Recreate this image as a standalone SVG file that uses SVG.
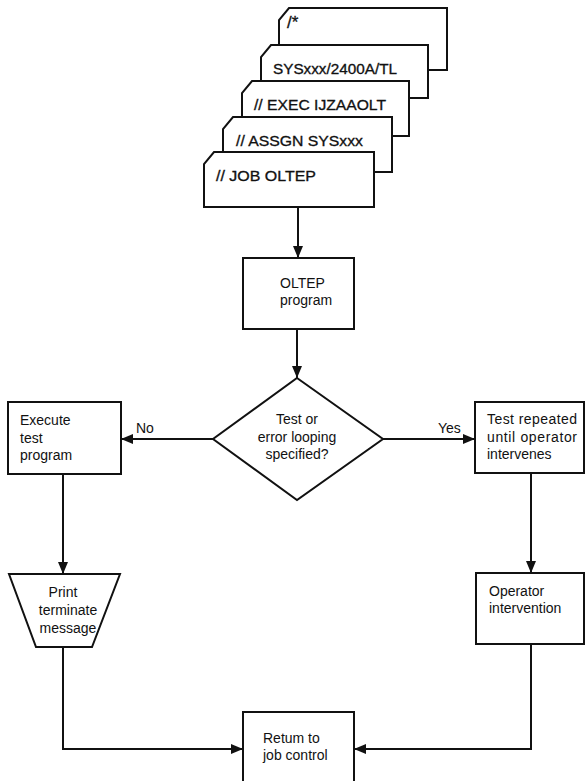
<svg xmlns="http://www.w3.org/2000/svg" width="586" height="781" viewBox="0 0 586 781">
  <style>
    .shape { fill: #ffffff; stroke: #111111; stroke-width: 2; }
    .wire { fill: none; stroke: #111111; stroke-width: 2; }
    text { font-family: "Liberation Sans", "DejaVu Sans", sans-serif; font-size: 14px; fill: #111111; }
    .card text { font-size: 14px; stroke: #111111; stroke-width: 0.3; }
    .mid { text-anchor: middle; }
  </style>
  <defs>
    <marker id="arrow" viewBox="0 0 12 10" refX="12" refY="5" markerWidth="12" markerHeight="10" markerUnits="userSpaceOnUse" orient="auto">
      <path d="M0,0 L12,5 L0,10 Z" fill="#111111"/>
    </marker>
  </defs>

  <!-- Job control card deck, back to front -->
  <g id="card-end" class="card">
    <path class="shape" d="M289,8 L447,8 L447,70 L279,70 L279,20 Z"/>
    <text x="287" y="28" style="font-size:17px">/*</text>
  </g>
  <g id="card-sys" class="card">
    <path class="shape" d="M271,45 L428,45 L428,98 L261,98 L261,57 Z"/>
    <text x="273" y="74" textLength="124" lengthAdjust="spacingAndGlyphs">SYSxxx/2400A/TL</text>
  </g>
  <g id="card-exec" class="card">
    <path class="shape" d="M252,81 L409,81 L409,136 L242,136 L242,93 Z"/>
    <text x="254" y="110" textLength="132" lengthAdjust="spacingAndGlyphs">// EXEC IJZAAOLT</text>
  </g>
  <g id="card-assgn" class="card">
    <path class="shape" d="M233,117 L392,117 L392,172 L223,172 L223,129 Z"/>
    <text x="236" y="146" textLength="127" lengthAdjust="spacingAndGlyphs">// ASSGN SYSxxx</text>
  </g>
  <g id="card-job" class="card">
    <path class="shape" d="M214,152 L374,152 L374,207 L204,207 L204,164 Z"/>
    <text x="216" y="181" textLength="100" lengthAdjust="spacingAndGlyphs">// JOB OLTEP</text>
  </g>

  <!-- Process steps -->
  <g id="oltep">
    <rect class="shape" x="243" y="258" width="111" height="71"/>
    <text x="280" y="288">OLTEP</text>
    <text x="280" y="305">program</text>
  </g>
  <g id="decision">
    <path class="shape" d="M297,378 L383,439 L297,500 L213,439 Z"/>
    <text class="mid" x="297" y="424">Test or</text>
    <text class="mid" x="297" y="442">error looping</text>
    <text class="mid" x="297" y="459">specified?</text>
  </g>
  <g id="execute">
    <rect class="shape" x="8" y="402" width="113" height="72"/>
    <text x="20" y="425">Execute</text>
    <text x="20" y="443">test</text>
    <text x="20" y="460">program</text>
  </g>
  <g id="repeat">
    <rect class="shape" x="475" y="402" width="109" height="71"/>
    <text x="487" y="424" textLength="90" lengthAdjust="spacing">Test repeated</text>
    <text x="487" y="442" textLength="90" lengthAdjust="spacing">until operator</text>
    <text x="487" y="459">intervenes</text>
  </g>
  <g id="print">
    <path class="shape" d="M9,574 L120,574 L92,647 L36,647 Z"/>
    <text class="mid" x="63" y="597">Print</text>
    <text class="mid" x="68" y="615">terminate</text>
    <text class="mid" x="68" y="633">message</text>
  </g>
  <g id="operator">
    <rect class="shape" x="476" y="573" width="108" height="71"/>
    <text x="489" y="596">Operator</text>
    <text x="489" y="613">intervention</text>
  </g>
  <g id="return">
    <rect class="shape" x="243" y="712" width="111" height="80"/>
    <text x="263" y="743">Retum to</text>
    <text x="263" y="760">job control</text>
  </g>

  <!-- Connectors -->
  <g id="connectors">
    <path class="wire" d="M298,207 L298,258" marker-end="url(#arrow)"/>
    <path class="wire" d="M297,329 L297,378" marker-end="url(#arrow)"/>
    <path class="wire" d="M213,439 L121,439" marker-end="url(#arrow)"/>
    <path class="wire" d="M383,439 L475,439" marker-end="url(#arrow)"/>
    <path class="wire" d="M63,474 L63,574" marker-end="url(#arrow)"/>
    <path class="wire" d="M531,473 L531,573" marker-end="url(#arrow)"/>
    <path class="wire" d="M63,647 L63,749 L243,749" marker-end="url(#arrow)"/>
    <path class="wire" d="M531,644 L531,749 L354,749" marker-end="url(#arrow)"/>
    <text x="136" y="433">No</text>
    <text x="438" y="433">Yes</text>
  </g>
</svg>
